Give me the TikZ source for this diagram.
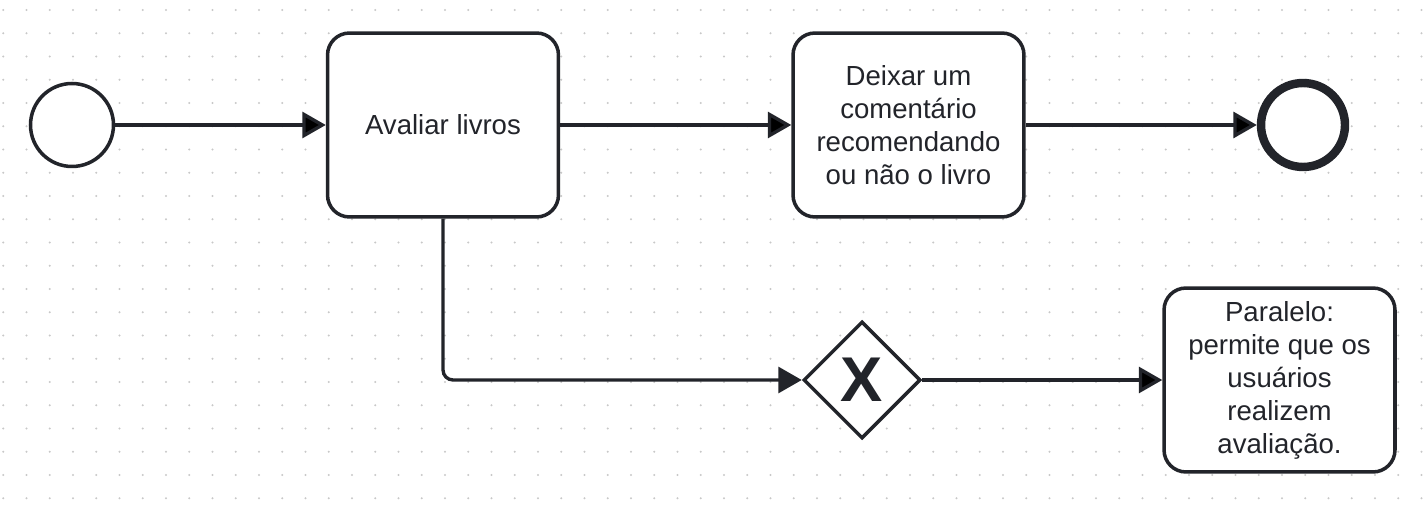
\documentclass[tikz,border=0pt]{standalone}
\usepackage{fontspec}
\setmainfont{Liberation Sans}
\usetikzlibrary{arrows.meta,shapes.geometric}
\definecolor{ink}{RGB}{34,36,42}
\definecolor{griddot}{RGB}{200,200,200}

\begin{document}
\begin{tikzpicture}[x=0.02cm, y=-0.02cm,
            every node/.style={draw=ink, fill=white, text=ink, line width=2pt},
            task/.style={rectangle, rounded corners=0.44cm, minimum width=4.62cm,
                minimum height=3.68cm, align=center, font=\fontsize{15.7}{18.8}\selectfont},
            start/.style={circle, minimum size=1.66cm, inner sep=0pt},
            finish/.style={circle, minimum size=1.68cm, inner sep=0pt, line width=4.8pt},
            gateway/.style={diamond, aspect=1, minimum size=2.34cm, inner sep=0pt,
                font=\fontsize{36}{36}\selectfont\bfseries},
            flow/.style={draw=ink, line width=1.9pt, -{Triangle[length=0.47cm, width=0.52cm]}}]
            \useasboundingbox (0,0) rectangle (1426,506);
            % dotted grid
            \foreach \i in {0,...,61}
                \foreach \j in {0,...,21}
                    \fill[griddot] (3.3+23.25*\i, 10+23.25*\j) circle[radius=0.022cm];
            \node[start] (inicio) at (72,125) {};
            \node[task] (avaliar) at (443,125) {Avaliar livros};
            \node[task] (comentar) at (908.5,125) {Deixar um\\comentário\\recomendando\\ou não o livro};
            \node[finish] (fim) at (1303,125) {};
            \node[gateway] (gw) at (862,380) {X};
            \node[task] (paralelo) at (1279.5,380) {Paralelo:\\permite que os\\usuários\\realizem\\avaliação.};
            \path[flow] (inicio) edge (avaliar)
                        (avaliar) edge (comentar)
                        (comentar) edge (fim)
                        (gw) edge (paralelo);
            \draw[flow, rounded corners=0.2cm] (avaliar.south) |- (gw.west);
        \end{tikzpicture}
\end{document}
